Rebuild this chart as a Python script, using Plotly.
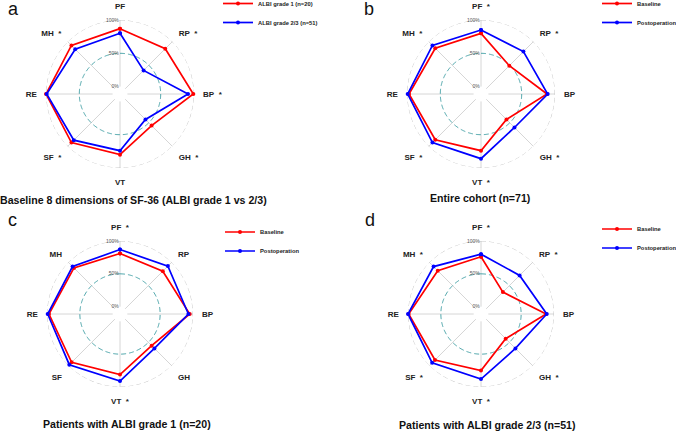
import numpy as np
import plotly.graph_objects as go

W, H = 676, 431

dims = ["PF", "RP", "BP", "GH", "VT", "SF", "RE", "MH"]

# panel a: baseline ALBI grade 1 vs 2/3
a_albi1 = [87, 85, 99, 56, 80, 92, 100, 92]
a_albi23 = [80, 39, 91, 43, 74, 87, 99, 84]
a_star = [False, True, True, True, False, True, False, True]

# panel b: entire cohort
b_base = [80, 49, 88, 43, 74, 86, 97, 86]
b_post = [85, 79, 89, 60, 86, 92, 99, 92]
b_star = [True, True, False, True, True, True, False, True]

# panel c: ALBI grade 1
c_base = [81, 81, 95, 57, 81, 93, 97, 88]
c_post = [87, 92, 93, 63, 91, 98, 99, 91]
c_star = [True, False, False, False, True, False, False, False]

# panel d: ALBI grade 2/3
d_base = [76, 36, 88, 42, 75, 88, 99, 82]
d_post = [80, 72, 89, 63, 88, 94, 100, 91]
d_star = [True, True, False, True, True, True, False, True]

grid_vals = [0, 50, 100]
grid_text = ["0%", "50%", "100%"]

panels = [
    dict(key="polar", letter="a", title="Baseline 8 dimensions of SF-36 (ALBI grade 1 vs 2/3)",
         s1=a_albi1, s2=a_albi23, n1="ALBI grade 1 (n=20)", n2="ALBI grade 2/3 (n=51)",
         star=a_star, cx=120, cy=94, R=74, leg="legend", lx=218, ly=-11,
         tx=-2, ty=200, tanchor="left", lex=6, ley=-3),
    dict(key="polar2", letter="b", title="Entire cohort (n=71)",
         s1=b_base, s2=b_post, n1="Baseline", n2="Postoperation",
         star=b_star, cx=481, cy=94, R=74, leg="legend2", lx=597, ly=-11,
         tx=480, ty=197.5, tanchor="center", lex=362, ley=-3),
    dict(key="polar3", letter="c", title="Patients with ALBI grade 1 (n=20)",
         s1=c_base, s2=c_post, n1="Baseline", n2="Postoperation",
         star=c_star, cx=120, cy=314, R=73, leg="legend3", lx=220, ly=217.5,
         tx=127, ty=424, tanchor="center", lex=6, ley=208),
    dict(key="polar4", letter="d", title="Patients with ALBI grade 2/3 (n=51)",
         s1=d_base, s2=d_post, n1="Baseline", n2="Postoperation",
         star=d_star, cx=481, cy=314, R=73, leg="legend4", lx=597, ly=214.5,
         tx=487, ty=425, tanchor="center", lex=363, ley=208),
]

fig = go.Figure()
theta_cat = [i * 360 / len(dims) for i in range(len(dims))]
circ = np.linspace(0, 360, 241)
annotations = []
FONT = "Liberation Sans, Arial, sans-serif"

for p in panels:
    sub = p["key"]
    # grid circles
    fig.add_trace(go.Scatterpolar(r=[100] * len(circ), theta=circ, mode="lines",
                                  line=dict(color="#c4c4c4", width=1, dash="5px,3px"),
                                  hoverinfo="skip", showlegend=False, subplot=sub))
    fig.add_trace(go.Scatterpolar(r=[50] * len(circ), theta=circ, mode="lines",
                                  line=dict(color="#4aa3a8", width=1, dash="5px,3px"),
                                  hoverinfo="skip", showlegend=False, subplot=sub))
    for vals, name, col in [(p["s1"], p["n1"], "#ff0000"), (p["s2"], p["n2"], "#0000ff")]:
        fig.add_trace(go.Scatterpolar(
            r=vals + [vals[0]], theta=theta_cat + [theta_cat[0]], mode="lines+markers",
            name=name, line=dict(color=col, width=1.7), marker=dict(color=col, size=4),
            subplot=sub, legend=p["leg"]))
    labels = [d + ("\u00a0\u00a0*" if s else "") for d, s in zip(dims, p["star"])]
    x0 = (p["cx"] - p["R"]) / W
    x1 = (p["cx"] + p["R"]) / W
    y0 = (H - p["cy"] - p["R"]) / H
    y1 = (H - p["cy"] + p["R"]) / H
    fig.update_layout(**{sub: dict(
        domain=dict(x=[x0, x1], y=[y0, y1]),
        hole=0.1,
        bgcolor="white",
        radialaxis=dict(range=[0, 100], tickvals=grid_vals, ticktext=grid_text,
                        showgrid=False, showline=False, ticks="", angle=90,
                        side="counterclockwise", tickangle=90,
                        tickfont=dict(size=5, color="#555555", family=FONT)),
        angularaxis=dict(type="linear", rotation=90, direction="clockwise",
                         tickmode="array", tickvals=theta_cat, ticktext=labels,
                         showgrid=True, gridcolor="#d6d6d6", gridwidth=1,
                         showline=False, ticks="outside", ticklen=7,
                         tickcolor="rgba(0,0,0,0)",
                         tickfont=dict(size=8, color="#222222", family=FONT, weight="bold")),
    )})
    fig.update_layout(**{p["leg"]: dict(
        x=p["lx"] / W, y=1 - p["ly"] / H, xanchor="left", yanchor="top",
        bgcolor="rgba(0,0,0,0)", font=dict(size=5.8, family=FONT, color="#222222", weight="bold"),
        itemwidth=30)})
    annotations.append(dict(text="<b>" + p["title"] + "</b>", x=p["tx"] / W, y=1 - p["ty"] / H,
                            xref="paper", yref="paper", xanchor=p["tanchor"], yanchor="middle",
                            showarrow=False, font=dict(size=10.6, family=FONT, color="#111111")))
    annotations.append(dict(text=p["letter"], x=p["lex"] / W, y=1 - p["ley"] / H,
                            xref="paper", yref="paper", xanchor="left", yanchor="top",
                            showarrow=False, font=dict(size=18, family=FONT, color="#111111")))

fig.update_layout(width=W, height=H, margin=dict(l=0, r=0, t=0, b=0, autoexpand=False),
                  paper_bgcolor="white", plot_bgcolor="white",
                  annotations=annotations, showlegend=True)
fig.write_html("out.html", config={"displayModeBar": False},
               post_script="document.body.style.margin='0';document.body.style.overflow='hidden';")
